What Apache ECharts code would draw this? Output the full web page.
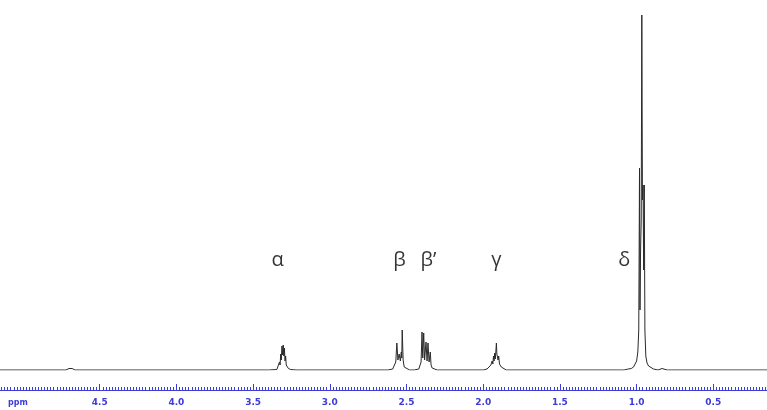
<!DOCTYPE html>
<html>
<head>
    <meta charset="UTF-8">
    <title>1H NMR</title>
    <script src="https://cdn.jsdelivr.net/npm/echarts@6/dist/echarts.min.js"></script>
    <style>
        html, body { margin: 0; padding: 0; background: #fff; }
        #nmr { width: 767px; height: 410px; }
    </style>
</head>
<body>
<div id="nmr"></div>
<script type="text/javascript">
    // [ppm, intensity], left to right (high ppm to low)
    var baseStart = [[5.15, 0], [4.72, 0], [4.70, 1.5], [4.68, 1.5], [4.66, 0]];
    var alphaPeak = [[3.40, 0], [3.345, 0.5], [3.335, 2], [3.328, 8], [3.324, 5], [3.320, 16], [3.316, 10],
        [3.312, 24], [3.308, 15], [3.304, 25], [3.300, 14], [3.296, 22], [3.292, 9], [3.288, 14],
        [3.284, 5], [3.278, 4], [3.270, 1.5], [3.255, 0.5], [3.22, 0]];
    var betaPeak = [[2.62, 0], [2.59, 1], [2.578, 3], [2.570, 8], [2.563, 27], [2.556, 10], [2.548, 16],
        [2.540, 9], [2.534, 18], [2.531, 12], [2.528, 40], [2.522, 10], [2.515, 3], [2.505, 1], [2.48, 0]];
    var betaPrimePeak = [[2.45, 0], [2.42, 1], [2.412, 3], [2.405, 8], [2.399, 38], [2.394, 12], [2.388, 37],
        [2.382, 10], [2.373, 28], [2.366, 9], [2.360, 27], [2.353, 8], [2.345, 18], [2.340, 5],
        [2.333, 2], [2.32, 0.5], [2.30, 0]];
    var gammaPeak = [[2.00, 0], [1.975, 1], [1.962, 2.5], [1.950, 5], [1.942, 9], [1.937, 6], [1.933, 14],
        [1.929, 9], [1.925, 17], [1.921, 11], [1.917, 20], [1.914, 27], [1.911, 16], [1.907, 18],
        [1.903, 10], [1.899, 14], [1.894, 6], [1.889, 6], [1.882, 3], [1.872, 1], [1.85, 0]];
    var deltaPeak = [[1.10, 0], [1.088, 1.5], [1.082, 0], [1.06, 0.8], [1.035, 1.5], [1.020, 3], [1.010, 5],
        [1.000, 9], [0.992, 18], [0.986, 40], [0.981, 202], [0.978, 60], [0.974, 120], [0.970, 150],
        [0.966, 355], [0.962, 170], [0.958, 185], [0.954, 100], [0.950, 185], [0.946, 40], [0.940, 14],
        [0.932, 7], [0.922, 4], [0.910, 2], [0.89, 1], [0.86, 0], [0.835, 1.5], [0.828, 0]];
    var baseEnd = [[0.80, 0], [0.15, 0]];

    var tickLabels = [4.5, 4.0, 3.5, 3.0, 2.5, 2.0, 1.5, 1.0, 0.5];
    var peakNames = ['α', 'β', 'β’', 'γ', 'δ'];
    var peakLabelPpm = [3.34, 2.546, 2.357, 1.914, 1.08];
    var labelHeight = 110;

    var spectrum = [].concat(baseStart, alphaPeak, betaPeak, betaPrimePeak, gammaPeak, deltaPeak, baseEnd);

    var minorTicks = [];
    for (var t = 5.14; t > 0.15; t -= 0.02) {
        minorTicks.push(Math.round(t * 100) / 100);
    }

    var blue = '#3c3cd8';
    var axisBase = {
        type: 'value',
        min: 0.15,
        max: 5.15,
        inverse: true,
        position: 'bottom',
        offset: 20,
        splitLine: { show: false }
    };

    var labelData = [];
    for (var i = 0; i < peakNames.length; i++) {
        labelData.push({ value: [peakLabelPpm[i], labelHeight], name: peakNames[i] });
    }

    var option = {
        animation: false,
        grid: { left: 0, right: 0, top: 10, bottom: 40 },
        xAxis: [
            Object.assign({}, axisBase, {
                axisLine: { show: true, onZero: false, lineStyle: { color: blue, width: 1 } },
                axisTick: { show: true, inside: true, length: 6, customValues: tickLabels, lineStyle: { color: blue } },
                axisLabel: {
                    show: true, customValues: tickLabels, margin: 8,
                    color: blue, fontSize: 9, fontWeight: 'bold', fontFamily: 'DejaVu Sans',
                    formatter: function (v) { return v.toFixed(1); }
                }
            }),
            Object.assign({}, axisBase, {
                axisLine: { show: false, onZero: false },
                axisTick: { show: true, inside: true, length: 3, customValues: minorTicks, lineStyle: { color: blue } },
                axisLabel: { show: false }
            })
        ],
        yAxis: { type: 'value', min: 0, max: 360, show: false },
        graphic: [{
            type: 'text', left: 8, top: 399,
            style: { text: 'ppm', fill: blue, fontSize: 8, fontWeight: 'bold', fontFamily: 'DejaVu Sans' }
        }],
        series: [
            {
                type: 'line',
                data: spectrum,
                showSymbol: false,
                lineStyle: { color: '#2a2a2a', width: 1 },
                silent: true
            },
            {
                type: 'scatter',
                data: labelData,
                symbolSize: 0,
                label: {
                    show: true, position: 'inside',
                    formatter: '{b}', color: '#000', fontSize: 20, fontFamily: 'Open Sans'
                }
            }
        ]
    };
    echarts.init(document.getElementById('nmr')).setOption(option);
</script>
</body>
</html>
